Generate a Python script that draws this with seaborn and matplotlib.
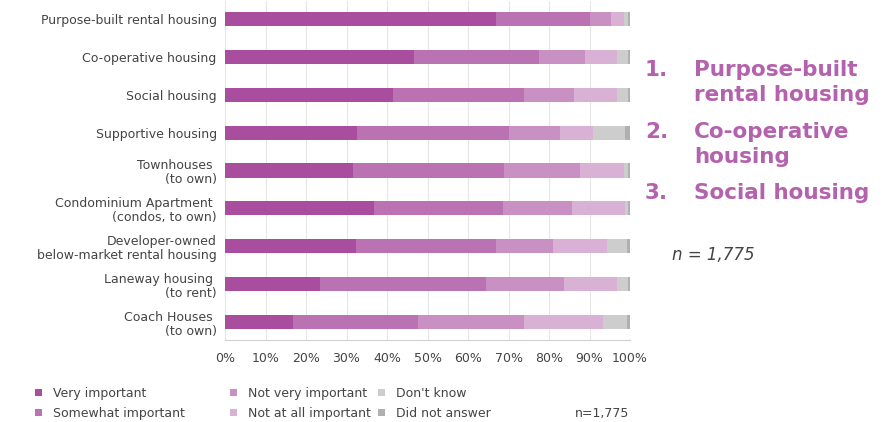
import pandas as pd
import numpy as np
import matplotlib.pyplot as plt
import seaborn as sns
from matplotlib.patches import Patch

categories = [
    "Purpose-built rental housing",
    "Co-operative housing",
    "Social housing",
    "Supportive housing",
    "Townhouses \n(to own)",
    "Condominium Apartment \n(condos, to own)",
    "Developer-owned\nbelow-market rental housing",
    "Laneway housing \n(to rent)",
    "Coach Houses \n(to own)",
]
very_important = [67.0, 46.6, 41.6, 32.6, 31.7, 36.9, 32.3, 23.5, 16.7]
somewhat_important = [23.1, 30.9, 32.2, 37.6, 37.3, 31.8, 34.5, 41.0, 31.0]
not_very_important = [5.1, 11.5, 12.3, 12.4, 18.6, 17.0, 14.2, 19.2, 26.1]
not_at_all_important = [3.3, 7.9, 10.8, 8.2, 10.9, 13.0, 13.2, 13.2, 19.6]
dont_know = [1.0, 2.5, 2.5, 8.0, 1.0, 0.8, 5.0, 2.5, 5.8]
did_not_answer = [0.5, 0.6, 0.6, 1.2, 0.5, 0.5, 0.8, 0.6, 0.8]

series_names = ["Very important", "Somewhat important", "Not very important",
                "Not at all important", "Don't know", "Did not answer"]
colors = ["#a94d9f", "#bb72b2", "#c990c3", "#d9b1d5", "#cdcdcd", "#b0b0b0"]

# top three, one list entry per line of text
top_numbers = ["1.", "", "2.", "", "3."]
top_lines = ["Purpose-built", "rental housing", "Co-operative", "housing", "Social housing"]
top_y = [70, 95, 132, 157, 193]

df = pd.DataFrame({
    "category": categories,
    series_names[0]: very_important,
    series_names[1]: somewhat_important,
    series_names[2]: not_very_important,
    series_names[3]: not_at_all_important,
    series_names[4]: dont_know,
    series_names[5]: did_not_answer,
})
cum = df[series_names].cumsum(axis=1)

sns.set_style("white")
plt.rcParams["font.family"] = ["DejaVu Sans"]

fig = plt.figure(figsize=(8.88, 4.22), dpi=100)
ax = fig.add_axes([225 / 888, 1 - 340 / 422, 405 / 888, 339 / 422])

# stacked bars: draw cumulative totals from the widest down
for name, col in zip(series_names[::-1], colors[::-1]):
    sns.barplot(x=cum[name], y=df["category"], color=col, width=0.37,
                orient="h", ax=ax, saturation=1, zorder=3, linewidth=0)

ax.set_xlim(0, 100)
ax.set_ylim(8.47, -0.47)
ax.set_xticks(np.arange(0, 101, 10))
ax.set_xticklabels([f"{v}%" for v in range(0, 101, 10)])
ax.xaxis.grid(True, color="#e6e6e6", linewidth=0.8, zorder=0)
ax.set_axisbelow(True)
ax.set_xlabel("")
ax.set_ylabel("")
for s in ["top", "right", "left"]:
    ax.spines[s].set_visible(False)
ax.spines["bottom"].set_color("#d0d0d0")
ax.tick_params(axis="both", length=0, labelsize=9, colors="#444444")
ax.tick_params(axis="x", pad=9)
ax.tick_params(axis="y", pad=6)
for lab in ax.get_yticklabels():
    lab.set_horizontalalignment("right")
    lab.set_multialignment("right")
    lab.set_linespacing(1.15)

# legend: three columns of two, placed one by one
handles = [Patch(facecolor=c, edgecolor="none", label=n) for n, c in zip(series_names, colors)]
for i, x0 in enumerate([24, 219, 367]):
    leg = fig.legend(handles=handles[2 * i:2 * i + 2], loc="lower left",
                     bbox_to_anchor=(x0 / 888, -0.022), frameon=False, fontsize=9,
                     handlelength=0.5, handleheight=0.5, handletextpad=0.9,
                     labelspacing=0.6, labelcolor="#444444")
fig.text(575 / 888, 1 - 413 / 422, "n=1,775", fontsize=9, color="#444444", va="center")

purple = "#b462ae"
for num, line, y in zip(top_numbers, top_lines, top_y):
    if num:
        fig.text(645 / 888, 1 - y / 422, num, fontsize=15.5, fontweight="bold",
                 color=purple, va="center")
    fig.text(694 / 888, 1 - y / 422, line, fontsize=15.5, fontweight="bold",
             color=purple, va="center")

fig.text(672 / 888, 1 - 255 / 422, "n = 1,775", fontsize=12, style="italic",
         color="#444444", va="center")

fig.savefig("out.png", dpi=100)
